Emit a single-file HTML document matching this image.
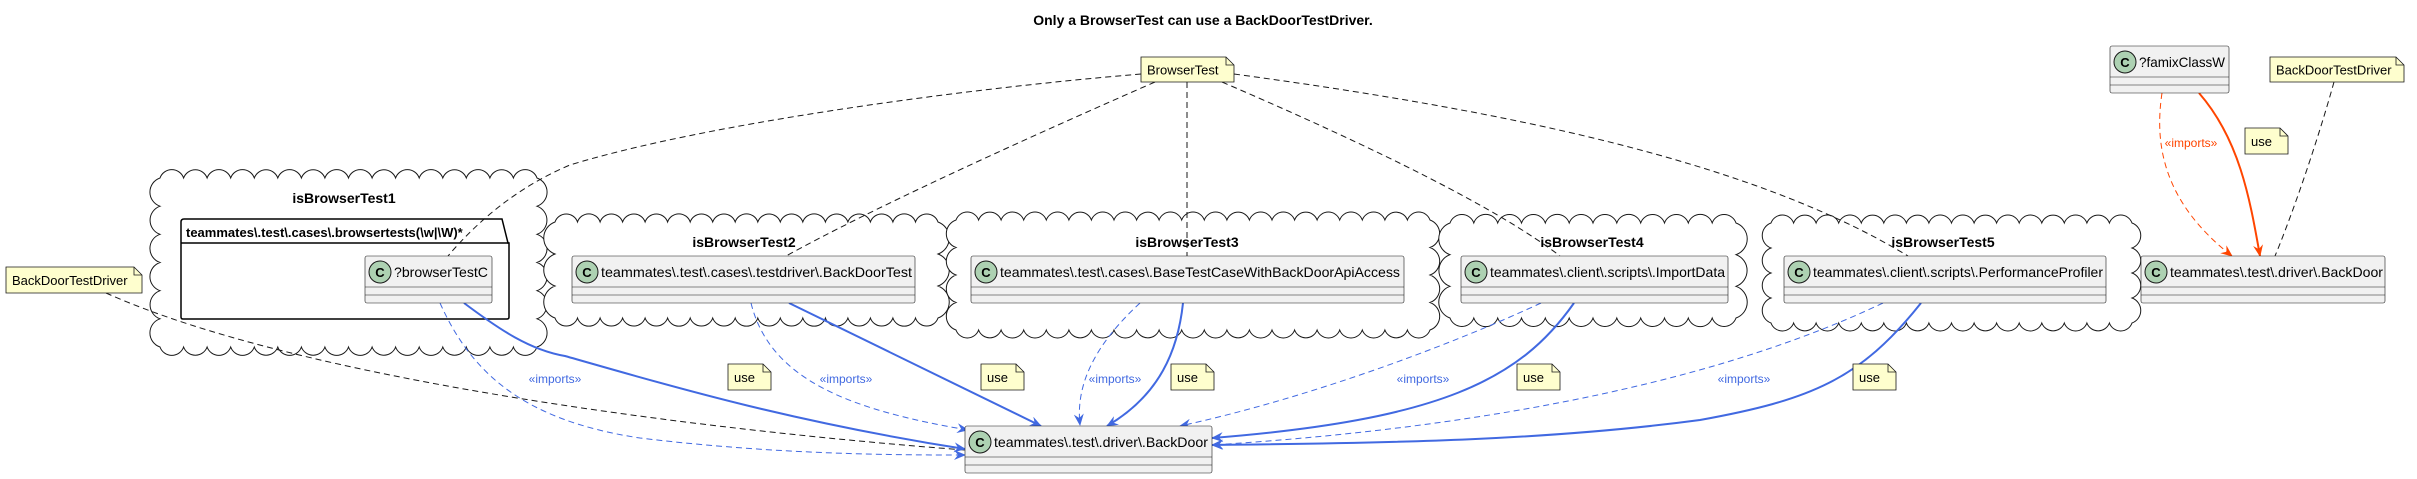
<!DOCTYPE html>
<html><head><meta charset="utf-8"><style>
html,body{margin:0;padding:0;background:#fff;}
svg{display:block;font-family:"Liberation Sans",sans-serif;}
</style></head><body>
<svg id="s" width="2417" height="479" viewBox="0 0 2417 479" xmlns="http://www.w3.org/2000/svg">
<defs>
<marker id="ab" viewBox="0 0 12 10" refX="11" refY="5" markerWidth="12" markerHeight="10" markerUnits="userSpaceOnUse" orient="auto"><path d="M0,0 L12,5 L0,10 L4,5 Z" fill="#4169E1"/></marker>
<marker id="ao" viewBox="0 0 12 10" refX="11" refY="5" markerWidth="12" markerHeight="10" markerUnits="userSpaceOnUse" orient="auto"><path d="M0,0 L12,5 L0,10 L4,5 Z" fill="#FF4500"/></marker>
</defs>
<text x="1203" y="25" text-anchor="middle" font-size="14" font-weight="bold">Only a BrowserTest can use a BackDoorTestDriver.</text>

<g id="clouds" fill="none" stroke="#181818" stroke-width="1"></g>

<!-- package -->
<path d="M181,243 L181,222 Q181,219 184,219 L502,219 L508,243 L509,243 L509,317 Q509,319 507,319 L183,319 Q181,319 181,317 Z" fill="#fff" stroke="#000" stroke-width="1.5"/>
<line x1="181" y1="243" x2="509" y2="243" stroke="#000" stroke-width="1.5"/>
<text x="186" y="237" font-size="13" font-weight="bold">teammates\.test\.cases\.browsertests(\w|\W)*</text>

<text x="344" y="203" text-anchor="middle" font-size="14" font-weight="bold">isBrowserTest1</text>
<text x="744" y="247" text-anchor="middle" font-size="14" font-weight="bold">isBrowserTest2</text>
<text x="1187" y="247" text-anchor="middle" font-size="14" font-weight="bold">isBrowserTest3</text>
<text x="1592" y="247" text-anchor="middle" font-size="14" font-weight="bold">isBrowserTest4</text>
<text x="1943" y="247" text-anchor="middle" font-size="14" font-weight="bold">isBrowserTest5</text>

<!-- note dashed links -->
<g fill="none" stroke="#181818" stroke-width="1" stroke-dasharray="6,4">
<path d="M1141,74 C950,90 700,125 570,165 C510,190 470,230 448,256"/>
<path d="M1155,82 C1000,150 870,210 786,256"/>
<path d="M1187,82 L1187,256"/>
<path d="M1222,82 C1380,150 1500,210 1560,256"/>
<path d="M1234,74 C1500,110 1750,160 1908,256"/>
<path d="M106,293 C300,380 700,430 965,450"/>
<path d="M2334,82 C2315,150 2290,220 2275,256"/>
</g>

<!-- blue dashed imports -->
<g fill="none" stroke="#4169E1" stroke-width="1" stroke-dasharray="6,4" marker-end="url(#ab)">
<path d="M440,303 C470,370 520,420 640,438 C780,455 900,455 965,455"/>
<path d="M751,303 C770,380 850,410 968,430"/>
<path d="M1140,303 C1100,340 1075,380 1080,425"/>
<path d="M1541,303 C1440,350 1300,400 1180,426"/>
<path d="M1883,303 C1700,390 1450,430 1212,445"/>
</g>
<!-- blue solid use -->
<g fill="none" stroke="#4169E1" stroke-width="2" marker-end="url(#ab)">
<path d="M464,303 C500,330 530,350 565,356 C650,380 780,420 965,449"/>
<path d="M789,303 L1041,426"/>
<path d="M1183,303 C1178,350 1160,395 1107,426"/>
<path d="M1574,303 C1520,380 1440,420 1212,438"/>
<path d="M1921,303 C1860,380 1810,400 1700,420 C1550,440 1400,443 1212,445"/>
</g>
<!-- orange -->
<path d="M2162,93 C2155,140 2160,200 2232,256" fill="none" stroke="#FF4500" stroke-width="1" stroke-dasharray="6,4" marker-end="url(#ao)"/>
<path d="M2199,93 C2240,140 2250,200 2260,256" fill="none" stroke="#FF4500" stroke-width="2" marker-end="url(#ao)"/>

<!-- labels -->
<g font-size="12" fill="#4169E1">
<text x="555" y="383" text-anchor="middle">«imports»</text>
<text x="846" y="383" text-anchor="middle">«imports»</text>
<text x="1115" y="383" text-anchor="middle">«imports»</text>
<text x="1423" y="383" text-anchor="middle">«imports»</text>
<text x="1744" y="383" text-anchor="middle">«imports»</text>
</g>
<text x="2191" y="147" text-anchor="middle" font-size="12" fill="#FF4500">«imports»</text>

<g id="notes" stroke="#181818" stroke-width="0.8"></g>
<g id="classes"></g>
</svg>
<script>
var NS="http://www.w3.org/2000/svg";
function el(p,t,a,txt){var e=document.createElementNS(NS,t);for(var k in a)e.setAttribute(k,a[k]);if(txt!=null)e.textContent=txt;p.appendChild(e);return e;}
function cloud(x1,y1,x2,y2){
  var g=document.getElementById('clouds');
  var inset=10;x1+=inset;y1+=inset;x2-=inset;y2-=inset;
  var d="M"+x1+","+y1;
  function edge(ax,ay,bx,by,step){var len=Math.hypot(bx-ax,by-ay),n=Math.max(1,Math.round(len/step));
    for(var i=1;i<=n;i++){var px=ax+(bx-ax)*i/n,py=ay+(by-ay)*i/n;var rr=len/n*0.53;d+=" A"+rr.toFixed(1)+","+rr.toFixed(1)+" 0 0 1 "+px.toFixed(1)+","+py.toFixed(1);}}
  edge(x1,y1,x2,y1,23);edge(x2,y1,x2,y2,28);edge(x2,y2,x1,y2,23);edge(x1,y2,x1,y1,28);
  el(g,'path',{d:d+" Z",fill:"#fff"});
}
cloud(150,168,547,357);
cloud(545,212,948,328);
cloud(946,210,1440,340);
cloud(1440,213,1746,328);
cloud(1761,213,2142,333);
function note(x,y,w,h,txt,fs){var g=document.getElementById('notes');
  el(g,'path',{d:"M"+x+","+y+" L"+(x+w-8)+","+y+" L"+(x+w)+","+(y+8)+" L"+(x+w)+","+(y+h)+" L"+x+","+(y+h)+" Z",fill:"#FEFECE"});
  el(g,'path',{d:"M"+(x+w-8)+","+y+" L"+(x+w-8)+","+(y+8)+" L"+(x+w)+","+(y+8),fill:"none"});
  el(g,'text',{x:x+6,y:y+h/2+5,"font-size":fs||13,stroke:"none",fill:"#000"},txt);}
note(1141,57,93,25,"BrowserTest");
note(6,267,136,26,"BackDoorTestDriver");
note(2270,57,134,25,"BackDoorTestDriver");
[[728,364],[981,364],[1171,364],[1517,364],[1853,364],[2245,128]].forEach(function(p){note(p[0],p[1],43,26,"use",13);});
function cls(x,y,w,txt,tl){var g=document.getElementById('classes');
  el(g,'rect',{x:x,y:y,width:w,height:47,rx:2,fill:"#F1F1F1",stroke:"#181818","stroke-width":0.6});
  el(g,'line',{x1:x,y1:y+31,x2:x+w,y2:y+31,stroke:"#181818","stroke-width":0.6});
  el(g,'line',{x1:x,y1:y+39,x2:x+w,y2:y+39,stroke:"#181818","stroke-width":0.6});
  el(g,'circle',{cx:x+15,cy:y+16,r:11,fill:"#ADD1B2",stroke:"#181818","stroke-width":1});
  el(g,'text',{x:x+15,y:y+21,"text-anchor":"middle","font-size":13,"font-weight":"bold"},"C");
  el(g,'text',{x:x+29,y:y+21,"font-size":14,textLength:tl,lengthAdjust:"spacingAndGlyphs"},txt);}
cls(365,256,127,"?browserTestC",94);
cls(572,256,343,"teammates\\.test\\.cases\\.testdriver\\.BackDoorTest",311);
cls(971,256,433,"teammates\\.test\\.cases\\.BaseTestCaseWithBackDoorApiAccess",400);
cls(1461,256,267,"teammates\\.client\\.scripts\\.ImportData",235);
cls(1784,256,322,"teammates\\.client\\.scripts\\.PerformanceProfiler",290);
cls(2141,256,244,"teammates\\.test\\.driver\\.BackDoor",213);
cls(2110,46,119,"?famixClassW",86);
cls(965,426,247,"teammates\\.test\\.driver\\.BackDoor",214);
</script>
</body></html>
